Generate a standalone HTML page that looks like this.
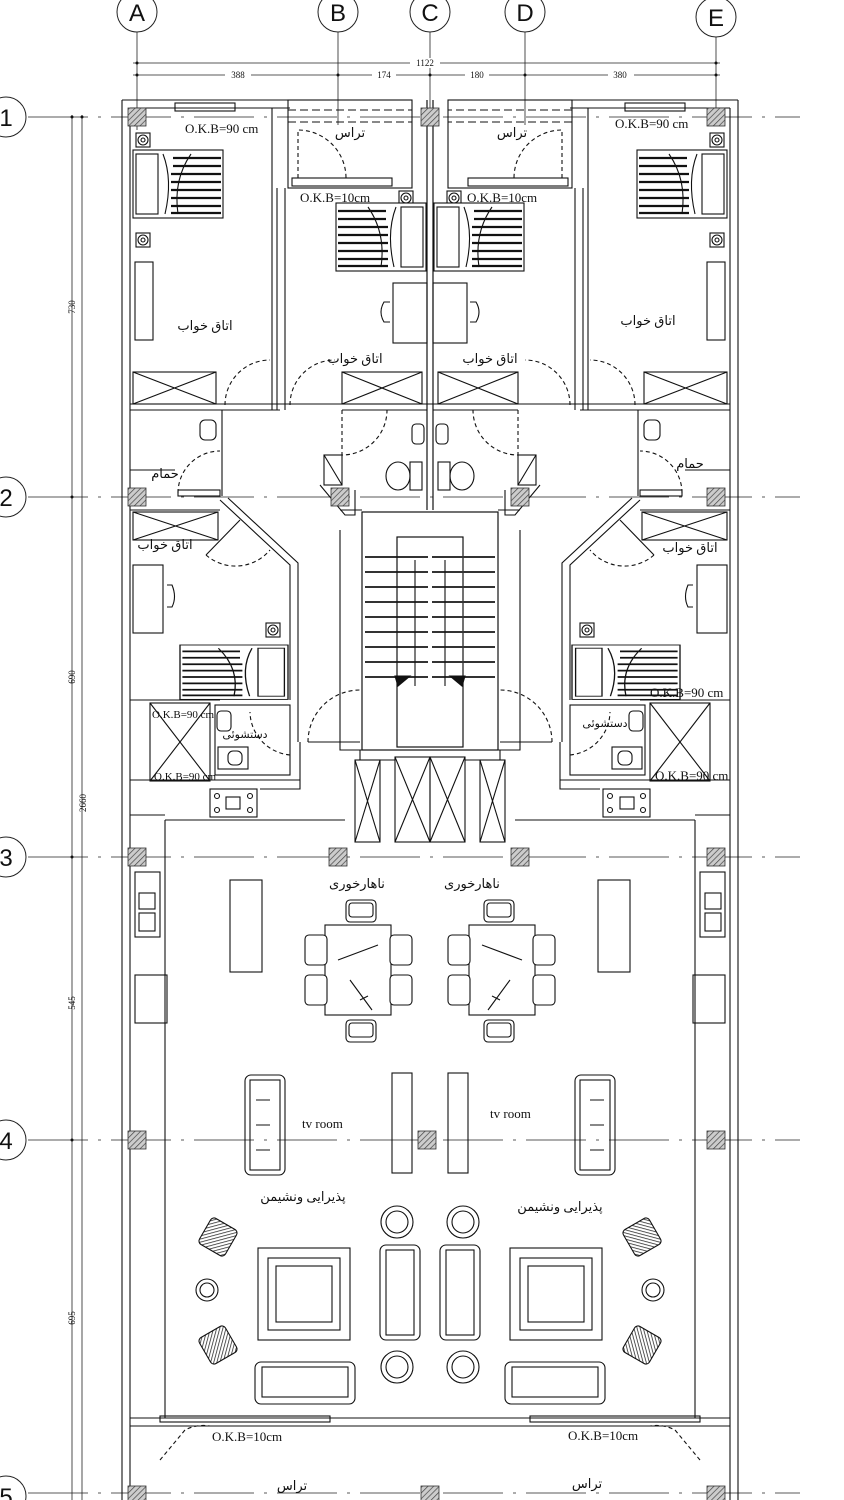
<!DOCTYPE html>
<html><head><meta charset="utf-8"><style>
html,body{margin:0;padding:0;background:#fff;width:844px;height:1500px;overflow:hidden}
svg{display:block}
text{font-family:"Liberation Serif","DejaVu Sans",serif;fill:#111}
text.gl{font-family:"Liberation Sans",sans-serif}
.fa{font-family:"DejaVu Sans",sans-serif;font-size:13px}
</style></head><body>
<svg width="844" height="1500" viewBox="0 0 844 1500" xmlns="http://www.w3.org/2000/svg">
<defs>
<pattern id="h" width="4" height="4" patternUnits="userSpaceOnUse" patternTransform="rotate(45)"><rect width="4" height="4" fill="#ccc"/><line x1="0" y1="0" x2="0" y2="4" stroke="#444" stroke-width="1.4"/></pattern>
<pattern id="h2" width="3" height="3" patternUnits="userSpaceOnUse" patternTransform="rotate(45)"><rect width="3" height="3" fill="#fff"/><line x1="0" y1="0" x2="0" y2="3" stroke="#222" stroke-width="1.5"/></pattern>
<g id="col"><rect x="-9" y="-9" width="18" height="18" fill="url(#h)" stroke="#333" stroke-width="0.8"/></g>
<g id="bed"><rect x="0" y="0" width="90" height="68" fill="#fff" stroke="#111"/><rect x="3" y="4" width="22" height="60" fill="none" stroke="#111"/><g stroke="#111" stroke-width="2.2"><line x1="40" y1="8" x2="88" y2="8"/><line x1="40" y1="16" x2="88" y2="16"/><line x1="38" y1="24" x2="88" y2="24"/><line x1="38" y1="32" x2="88" y2="32"/><line x1="38" y1="40" x2="88" y2="40"/><line x1="38" y1="48" x2="88" y2="48"/><line x1="38" y1="56" x2="88" y2="56"/><line x1="38" y1="63" x2="88" y2="63"/></g><path d="M30 4 Q40 30 32 64 M58 4 Q40 30 45 64" fill="none" stroke="#111"/></g>
<g id="lamp"><rect x="-7" y="-7" width="14" height="14" fill="#fff" stroke="#111"/><circle r="5" fill="none" stroke="#111"/><circle r="2" fill="none" stroke="#111"/></g>
<g id="chair"><rect x="0" y="0" width="30" height="22" rx="4" fill="#fff" stroke="#111"/><rect x="3" y="3" width="24" height="14" rx="3" fill="none" stroke="#111"/></g>
</defs>

<g stroke="#222" stroke-width="0.8" fill="none">
<line x1="137" y1="32" x2="137" y2="130"/><line x1="338" y1="32" x2="338" y2="125"/><line x1="430" y1="32" x2="430" y2="125"/><line x1="525" y1="32" x2="525" y2="125"/><line x1="716" y1="37" x2="716" y2="125"/>
<g stroke-dasharray="60 10 3 10">
<line x1="28" y1="117" x2="800" y2="117"/><line x1="28" y1="497" x2="800" y2="497"/><line x1="28" y1="857" x2="800" y2="857"/><line x1="28" y1="1140" x2="800" y2="1140"/><line x1="28" y1="1493" x2="800" y2="1493"/>
</g>
<line x1="133" y1="63" x2="720" y2="63"/><line x1="133" y1="75" x2="720" y2="75"/>
<line x1="72" y1="115" x2="72" y2="1500"/><line x1="82" y1="115" x2="82" y2="1500"/>
</g>
<g fill="#111"><circle cx="137" cy="63" r="1.5"/><circle cx="137" cy="75" r="1.5"/><circle cx="338" cy="75" r="1.5"/><circle cx="430" cy="75" r="1.5"/><circle cx="525" cy="75" r="1.5"/><circle cx="716" cy="75" r="1.5"/><circle cx="716" cy="63" r="1.5"/>
<circle cx="72" cy="117" r="1.5"/><circle cx="72" cy="497" r="1.5"/><circle cx="72" cy="857" r="1.5"/><circle cx="72" cy="1140" r="1.5"/><circle cx="82" cy="117" r="1.5"/></g>
<g font-size="9" text-anchor="middle">
<rect x="410" y="58" width="30" height="10" fill="#fff"/><text x="425" y="66">1122</text>
<rect x="225" y="70" width="26" height="10" fill="#fff"/><text x="238" y="78">388</text>
<rect x="372" y="70" width="24" height="10" fill="#fff"/><text x="384" y="78">174</text>
<rect x="465" y="70" width="24" height="10" fill="#fff"/><text x="477" y="78">180</text>
<rect x="608" y="70" width="26" height="10" fill="#fff"/><text x="620" y="78">380</text>
<g transform="rotate(-90)"><text x="-307" y="75" >730</text><text x="-677" y="75">690</text><text x="-803" y="86">2660</text><text x="-1003" y="75">545</text><text x="-1318" y="75">695</text></g>
</g>

<g fill="#fff" stroke="#222" stroke-width="1">
<circle cx="137" cy="12" r="20"/><circle cx="338" cy="12" r="20"/><circle cx="430" cy="12" r="20"/><circle cx="525" cy="12" r="20"/><circle cx="716" cy="17" r="20"/>
<circle cx="6" cy="117" r="20"/><circle cx="6" cy="497" r="20"/><circle cx="6" cy="857" r="20"/><circle cx="6" cy="1140" r="20"/><circle cx="6" cy="1496" r="20"/>
</g>
<g font-size="24" text-anchor="middle">
<text class="gl" x="137" y="21">A</text><text class="gl" x="338" y="21">B</text><text class="gl" x="430" y="21">C</text><text class="gl" x="525" y="21">D</text><text class="gl" x="716" y="26">E</text>
<text class="gl" x="6" y="126">1</text><text class="gl" x="6" y="506">2</text><text class="gl" x="6" y="866">3</text><text class="gl" x="6" y="1149">4</text><text class="gl" x="6" y="1505">5</text>
</g>

<g id="half" stroke="#111" stroke-width="1.1" fill="none">
<line x1="122" y1="100" x2="122" y2="1500"/><line x1="130" y1="108" x2="130" y2="1500"/>
<line x1="122" y1="100" x2="290" y2="100"/><line x1="130" y1="108" x2="290" y2="108"/>
<rect x="175" y="103" width="60" height="8"/>
<rect x="288" y="100" width="124" height="88"/><line x1="288" y1="110" x2="412" y2="110" stroke-dasharray="8 4"/><line x1="288" y1="122" x2="412" y2="122" stroke-dasharray="8 4"/>
<rect x="292" y="178" width="100" height="8"/>
<path d="M298 178 V130 A48 48 0 0 1 346 178" stroke-dasharray="4 3"/>
<line x1="277" y1="188" x2="277" y2="410"/><line x1="285" y1="188" x2="285" y2="410"/>
<line x1="272" y1="108" x2="272" y2="410"/>
<line x1="427" y1="100" x2="427" y2="510"/><line x1="433" y1="100" x2="433" y2="510"/>
<use href="#lamp" x="143" y="140"/><use href="#lamp" x="143" y="240"/>
<use href="#bed" x="133" y="150"/>
<rect x="135" y="262" width="18" height="78"/>
<use href="#lamp" x="406" y="198"/>
<g transform="translate(426,203) scale(-1,1)"><use href="#bed" x="0" y="0"/></g>
<rect x="393" y="283" width="34" height="60"/>
<path d="M390 302 h-6 q-6 10 0 20 h6"/>
<rect x="133" y="372" width="83" height="32"/><line x1="133" y1="372" x2="216" y2="404"/><line x1="133" y1="404" x2="216" y2="372"/>
<rect x="342" y="372" width="80" height="32"/><line x1="342" y1="372" x2="422" y2="404"/><line x1="342" y1="404" x2="422" y2="372"/>
<line x1="130" y1="404" x2="430" y2="404"/><line x1="130" y1="410" x2="280" y2="410"/><line x1="342" y1="410" x2="427" y2="410"/>
<path d="M225 405 A45 45 0 0 1 270 360" stroke-dasharray="4 3"/><path d="M290 405 A45 45 0 0 1 335 360" stroke-dasharray="4 3"/>
<path d="M342 410 V455 A45 45 0 0 0 387 410" stroke-dasharray="4 3"/>
<line x1="130" y1="470" x2="175" y2="470"/><path d="M178 493 A42 42 0 0 1 220 451" stroke-dasharray="4 3"/>
<rect x="178" y="490" width="42" height="6"/>
<line x1="222" y1="410" x2="222" y2="496"/>
<rect x="200" y="420" width="16" height="20" rx="5"/>
<rect x="412" y="424" width="12" height="20" rx="4"/>
<ellipse cx="398" cy="476" rx="12" ry="14"/><rect x="410" y="462" width="12" height="28"/>
<rect x="324" y="455" width="18" height="30"/><line x1="324" y1="455" x2="342" y2="485"/>
<path d="M320 485 L345 515 L355 515 L355 490"/>
<line x1="130" y1="510" x2="220" y2="510"/><rect x="133" y="512" width="85" height="28"/><line x1="133" y1="512" x2="218" y2="540"/><line x1="133" y1="540" x2="218" y2="512"/>
<path d="M220 500 L290 565 V700"/><path d="M228 498 L298 563 V742"/><path d="M206 555 L240 520"/><path d="M206 555 A45 45 0 0 0 270 550" stroke-dasharray="4 3"/>
<rect x="133" y="565" width="30" height="68"/><path d="M167 585 h5 q5 12 0 22 h-5"/>
<use href="#lamp" x="273" y="630"/>
<g transform="translate(288,645) scale(-1,1)"><use href="#bed" x="0" y="0" transform="scale(1.2,0.8)"/></g>
<line x1="130" y1="700" x2="220" y2="700"/>
<rect x="150" y="703" width="60" height="78"/><line x1="150" y1="703" x2="210" y2="781"/><line x1="150" y1="781" x2="210" y2="703"/>
<line x1="130" y1="780" x2="300" y2="780"/>
<rect x="215" y="705" width="75" height="70"/>
<rect x="217" y="711" width="14" height="20" rx="4"/><rect x="218" y="747" width="30" height="22"/><rect x="228" y="751" width="14" height="14" rx="5"/>
<path d="M290 755 A44 44 0 0 1 250 712" stroke-dasharray="4 3"/>
<rect x="210" y="789" width="47" height="28"/><circle cx="217" cy="796" r="2.5"/><circle cx="250" cy="796" r="2.5"/><circle cx="217" cy="810" r="2.5"/><circle cx="250" cy="810" r="2.5"/><rect x="226" y="797" width="14" height="12"/>
<path d="M260 789 L300 789 V742"/>
<line x1="165" y1="820" x2="300" y2="820"/><line x1="165" y1="820" x2="165" y2="1418"/>
<rect x="362" y="512" width="136" height="238"/><rect x="397" y="537" width="66" height="210"/>
<g stroke-width="2" stroke="#333">
<line x1="365" y1="557" x2="428" y2="557"/><line x1="365" y1="572" x2="428" y2="572"/><line x1="365" y1="587" x2="428" y2="587"/><line x1="365" y1="602" x2="428" y2="602"/><line x1="365" y1="617" x2="428" y2="617"/><line x1="365" y1="632" x2="428" y2="632"/><line x1="365" y1="647" x2="428" y2="647"/><line x1="365" y1="662" x2="428" y2="662"/><line x1="365" y1="677" x2="428" y2="677"/>
</g>
<path d="M395 676 L410 676 L398 686 Z" fill="#111"/><line x1="415" y1="560" x2="415" y2="686"/>
<path d="M340 530 V750 H362"/><path d="M340 510 H362"/>
<path d="M308 742 A52 52 0 0 1 360 690" stroke-dasharray="4 3"/><line x1="308" y1="742" x2="360" y2="742"/>
<path d="M360 750 V760 L395 760"/>
<rect x="355" y="760" width="25" height="82"/><line x1="355" y1="760" x2="380" y2="842"/><line x1="355" y1="842" x2="380" y2="760"/>
<rect x="395" y="757" width="35" height="85"/><line x1="395" y1="757" x2="430" y2="842"/><line x1="395" y1="842" x2="430" y2="757"/>
<line x1="130" y1="815" x2="165" y2="815"/>
<line x1="300" y1="820" x2="345" y2="820"/>
<rect x="135" y="872" width="25" height="65"/><rect x="139" y="893" width="16" height="16"/><rect x="139" y="913" width="16" height="18"/>
<rect x="135" y="975" width="32" height="48"/>
<rect x="230" y="880" width="32" height="92"/>
<rect x="325" y="925" width="66" height="90"/><path d="M338 960 L378 945 M350 980 L372 1010 M360 1000 l8 -4"/>
<use href="#chair" x="346" y="900"/><use href="#chair" x="346" y="1020"/>
<g transform="translate(305,935)"><rect width="22" height="30" rx="4" fill="#fff" stroke="#111"/></g><g transform="translate(305,975)"><rect width="22" height="30" rx="4" fill="#fff" stroke="#111"/></g>
<g transform="translate(390,935)"><rect width="22" height="30" rx="4" fill="#fff" stroke="#111"/></g><g transform="translate(390,975)"><rect width="22" height="30" rx="4" fill="#fff" stroke="#111"/></g>
<rect x="245" y="1075" width="40" height="100" rx="6"/><rect x="250" y="1080" width="30" height="90"/>
<path d="M256 1100 h14 M256 1125 h14 M256 1150 h14"/>
<rect x="392" y="1073" width="20" height="100"/>
<rect x="258" y="1248" width="92" height="92"/><rect x="268" y="1258" width="72" height="72"/><rect x="276" y="1266" width="56" height="56"/>
<rect x="255" y="1362" width="100" height="42" rx="6"/><rect x="262" y="1367" width="86" height="30"/>
<circle cx="397" cy="1222" r="16"/><circle cx="397" cy="1222" r="11"/><circle cx="397" cy="1367" r="16"/><circle cx="397" cy="1367" r="11"/>
<rect x="380" y="1245" width="40" height="95" rx="6"/><rect x="386" y="1250" width="28" height="85"/>
<circle cx="207" cy="1290" r="11"/><circle cx="207" cy="1290" r="7"/>
<g transform="translate(218,1237) rotate(30)"><rect x="-15" y="-15" width="30" height="30" rx="4" fill="url(#h2)"/></g>
<g transform="translate(218,1345) rotate(-30)"><rect x="-15" y="-15" width="30" height="30" rx="4" fill="url(#h2)"/></g>
<line x1="130" y1="1418" x2="430" y2="1418"/><line x1="130" y1="1426" x2="430" y2="1426"/>
<rect x="160" y="1416" width="170" height="6"/>
<path d="M160 1460 L185 1430 A40 40 0 0 1 210 1426" stroke-dasharray="4 3"/>
</g>
<use href="#half" transform="translate(860,0) scale(-1,1)"/>

<use href="#col" x="137" y="117"/><use href="#col" x="430" y="117"/><use href="#col" x="716" y="117"/>
<use href="#col" x="137" y="497"/><use href="#col" x="340" y="497"/><use href="#col" x="520" y="497"/><use href="#col" x="716" y="497"/>
<use href="#col" x="137" y="857"/><use href="#col" x="338" y="857"/><use href="#col" x="520" y="857"/><use href="#col" x="716" y="857"/>
<use href="#col" x="137" y="1140"/><use href="#col" x="427" y="1140"/><use href="#col" x="716" y="1140"/>
<use href="#col" x="137" y="1495"/><use href="#col" x="430" y="1495"/><use href="#col" x="716" y="1495"/>

<g font-size="13">
<text x="185" y="133">O.K.B=90  cm</text><text x="615" y="128">O.K.B=90  cm</text>
<text x="300" y="202">O.K.B=10cm</text><text x="467" y="202">O.K.B=10cm</text>
<text x="152" y="718" font-size="11">O.K.B=90  cm</text><text x="154" y="780" font-size="11">O.K.B=90  cm</text>
<text x="650" y="697">O.K.B=90  cm</text><text x="655" y="780">O.K.B=90  cm</text>
<text x="212" y="1441">O.K.B=10cm</text><text x="568" y="1440">O.K.B=10cm</text>
<text x="302" y="1128">tv room</text><text x="490" y="1118">tv room</text>
</g>
<g class="fa" text-anchor="middle">
<text x="350" y="137">تراس</text><text x="512" y="137">تراس</text>
<text x="205" y="330">اتاق خواب</text><text x="648" y="325">اتاق خواب</text>
<text x="355" y="363">اتاق خواب</text><text x="490" y="363">اتاق خواب</text>
<text x="165" y="478">حمام</text><text x="690" y="468">حمام</text>
<text x="165" y="549">اتاق خواب</text><text x="690" y="552">اتاق خواب</text>
<text x="245" y="738" font-size="11">دستشوئی</text><text x="605" y="727" font-size="11">دستشوئی</text>
<text x="357" y="888">ناهارخوری</text><text x="472" y="888">ناهارخوری</text>
<text x="303" y="1201">پذیرایی ونشیمن</text><text x="560" y="1211">پذیرایی ونشیمن</text>
<text x="292" y="1490">تراس</text><text x="587" y="1488">تراس</text>
</g>
</svg>
</body></html>
